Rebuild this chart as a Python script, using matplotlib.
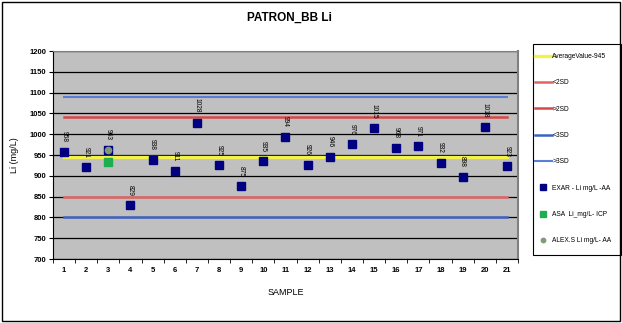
import numpy as np
import matplotlib
matplotlib.use('Agg')
import matplotlib.pyplot as plt

plt.rcParams['font.family'] = ['Liberation Sans', 'DejaVu Sans']

# Li results per sample
samples = list(range(1, 22))
exar = [958, 921, 963, 829, 938, 911, 1028, 925, 875, 935, 994,
        926, 946, 976, 1015, 968, 971, 932, 898, 1018, 923]
asa_sample = [3]
asa = [934]
alex_sample = [3]
alex = [963]

# control limits
average = 945
sd = 48
lim_lo2 = average - 2 * sd
lim_hi2 = average + 2 * sd
lim_lo3 = average - 3 * sd
lim_hi3 = average + 3 * sd

fig = plt.figure(figsize=(6.22, 3.23), dpi=100)
ax = fig.add_axes([0.0852, 0.198, 0.7476, 0.644])
ax.set_facecolor('#C0C0C0')

x = np.array(samples)
ax.plot(x, [average] * len(x), color='#F2F24A', lw=2.4, label='AverageValue-945', zorder=3)
ax.plot(x, [lim_lo2] * len(x), color='#E06464', lw=1.8, label='<2SD', zorder=3)
ax.plot(x, [lim_hi2] * len(x), color='#D84848', lw=1.8, label='>2SD', zorder=3)
ax.plot(x, [lim_lo3] * len(x), color='#3F62C0', lw=1.8, label='<3SD', zorder=3)
ax.plot(x, [lim_hi3] * len(x), color='#5A7ED8', lw=1.5, label='>3SD', zorder=3)

ax.plot(samples, exar, 's', color='#000080', ms=6.3, ls='none',
        label='EXAR - Li mg/L -AA', zorder=4)
ax.plot(asa_sample, asa, 's', color='#1FAE4F', ms=6.3, ls='none',
        label='ASA  Li_mg/L- ICP', zorder=5)
ax.plot(alex_sample, alex, 'o', color='#7F9A76', ms=4.5, ls='none',
        label='ALEX.S Li mg/L- AA', zorder=6)

for s, v in zip(samples, exar):
    ax.annotate(str(v), (s, v), xytext=(0, 7), textcoords='offset points',
                rotation=270, ha='center', va='bottom', fontsize=4.8, zorder=7)

ax.set_xlim(0.5, 21.5)
ax.set_ylim(700, 1200)
ax.set_yticks(np.arange(700, 1201, 50))
ax.yaxis.grid(True, color='black', lw=0.9)
ax.set_axisbelow(True)

ax.set_xticks(samples)
ax.set_xticks(np.arange(0.5, 22, 1), minor=True)
ax.tick_params(axis='x', which='major', length=0, labelsize=5.5, pad=6)
ax.tick_params(axis='x', which='minor', length=3, direction='out')
ax.tick_params(axis='y', length=3, direction='out', labelsize=5.5, pad=2)
for lab in ax.get_xticklabels() + ax.get_yticklabels():
    lab.set_fontweight('bold')

ax.spines['left'].set_color('black')
ax.spines['bottom'].set_color('black')
ax.spines['top'].set_color('#808080')
ax.spines['right'].set_color('#808080')
ax.spines['right'].set_linewidth(1.5)

ax.set_xlabel('SAMPLE', fontsize=6.5, labelpad=10)
ax.set_ylabel('Li (mg/L)', fontsize=6.5, labelpad=7)
fig.text(0.465, 0.945, 'PATRON_BB Li', ha='center', va='center',
         fontsize=8.5, fontweight='bold')

# legend without its own frame, boxed separately
handles, labels = ax.get_legend_handles_labels()
leg = fig.legend(handles, labels, loc='upper left',
                 bbox_to_anchor=(535 / 622, 1 - 53 / 323),
                 fontsize=4.8, frameon=False,
                 labelspacing=2.9, handlelength=2.5, handletextpad=0.1,
                 borderpad=0, borderaxespad=0, markerscale=0.7)
fig.patches.append(plt.Rectangle((533 / 622, 1 - 255 / 323), 88 / 622, 211 / 323,
                                 transform=fig.transFigure, fill=False,
                                 edgecolor='black', lw=0.8))

# outer border
fig.patches.append(plt.Rectangle((0.003, 0.005), 0.994, 0.99, transform=fig.transFigure,
                                 fill=False, edgecolor='black', lw=1.0))

fig.savefig('out.png', dpi=100)
